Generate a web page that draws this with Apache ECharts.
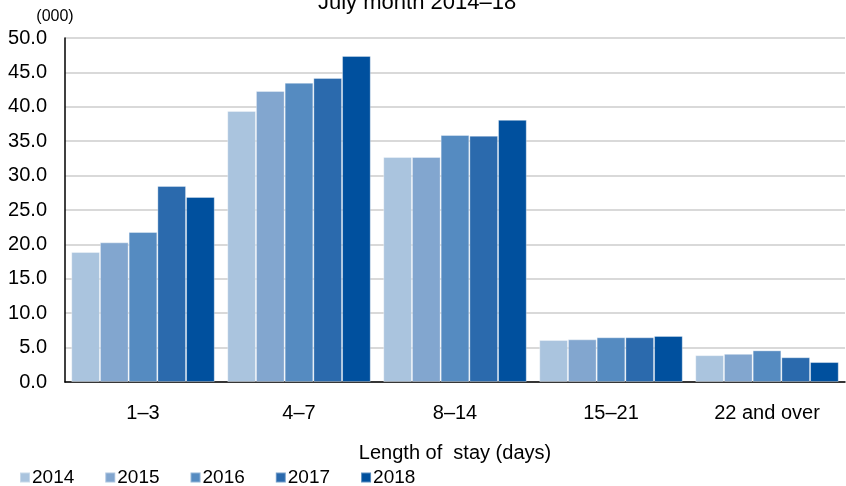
<!DOCTYPE html>
<html>
<head>
<meta charset="utf-8">
<script src="https://cdn.jsdelivr.net/npm/echarts@6/dist/echarts.min.js"></script>
<style>
  html, body { margin: 0; padding: 0; background: #fff; }
  #chart { width: 846px; height: 486px; }
</style>
</head>
<body>
<div id="chart"></div>
<script>
// Length of stay, July month 2014-18 (000)
var categories = ['1\u20133', '4\u20137', '8\u201314', '15\u201321', '22 and over'];
var years = ['2014', '2015', '2016', '2017', '2018'];
var v2014 = [18.9, 39.4, 32.7, 6.1, 3.9];
var v2015 = [20.3, 42.3, 32.7, 6.2, 4.1];
var v2016 = [21.8, 43.5, 35.9, 6.5, 4.6];
var v2017 = [28.5, 44.2, 35.8, 6.5, 3.6];
var v2018 = [26.9, 47.4, 38.1, 6.7, 2.9];
var colors = ['#aac4de', '#82a6cf', '#558bc1', '#2b6aad', '#00509e'];

var seriesData = [v2014, v2015, v2016, v2017, v2018];
var myChart = echarts.init(document.getElementById('chart'), null, { renderer: 'canvas' });

var font = 'Liberation Sans, Arial, sans-serif';

var option = {
  backgroundColor: '#fff',
  animation: false,
  title: {
    text: 'July month 2014\u201318',
    left: 313,
    top: -13,
    textStyle: { color: '#000', fontSize: 22, fontWeight: 'normal', fontFamily: font }
  },
  legend: {
    left: 14,
    top: 463,
    itemWidth: 10,
    itemHeight: 10,
    itemGap: 30,
    icon: 'rect',
    textStyle: { color: '#000', fontSize: 19, fontFamily: font, padding: [0, 0, 0, -3] },
    data: years
  },
  grid: { left: 65, right: 1, top: 38, bottom: 104 },
  xAxis: {
    type: 'category',
    data: categories,
    name: 'Length of  stay (days)',
    nameLocation: 'middle',
    nameGap: 61,
    nameTextStyle: { color: '#000', fontSize: 20, fontFamily: font },
    axisLine: { lineStyle: { color: '#000', width: 1.5 } },
    axisTick: { show: false },
    axisLabel: { color: '#000', fontSize: 20, fontFamily: font, margin: 21 }
  },
  yAxis: {
    type: 'value',
    min: 0,
    max: 50,
    interval: 5,
    name: '(000)',
    nameLocation: 'end',
    nameGap: 13,
    nameTextStyle: { color: '#000', fontSize: 16, fontFamily: font, align: 'center', padding: [0, 0, 0, -20] },
    axisLine: { show: true, lineStyle: { color: '#000', width: 1.5 } },
    axisTick: { show: false },
    axisLabel: {
      color: '#000', fontSize: 20, fontFamily: font, margin: 18,
      formatter: function (v) { return v.toFixed(1); }
    },
    splitLine: { lineStyle: { color: '#d9d9d9', width: 2 } }
  },
  series: years.map(function (y, i) {
    return {
      name: y,
      type: 'bar',
      data: seriesData[i],
      barGap: '0%',
      barCategoryGap: '8%',
      itemStyle: { color: colors[i], borderColor: 'rgba(255,255,255,0.35)', borderWidth: 1 }
    };
  })
};

myChart.setOption(option);
</script>
</body>
</html>
